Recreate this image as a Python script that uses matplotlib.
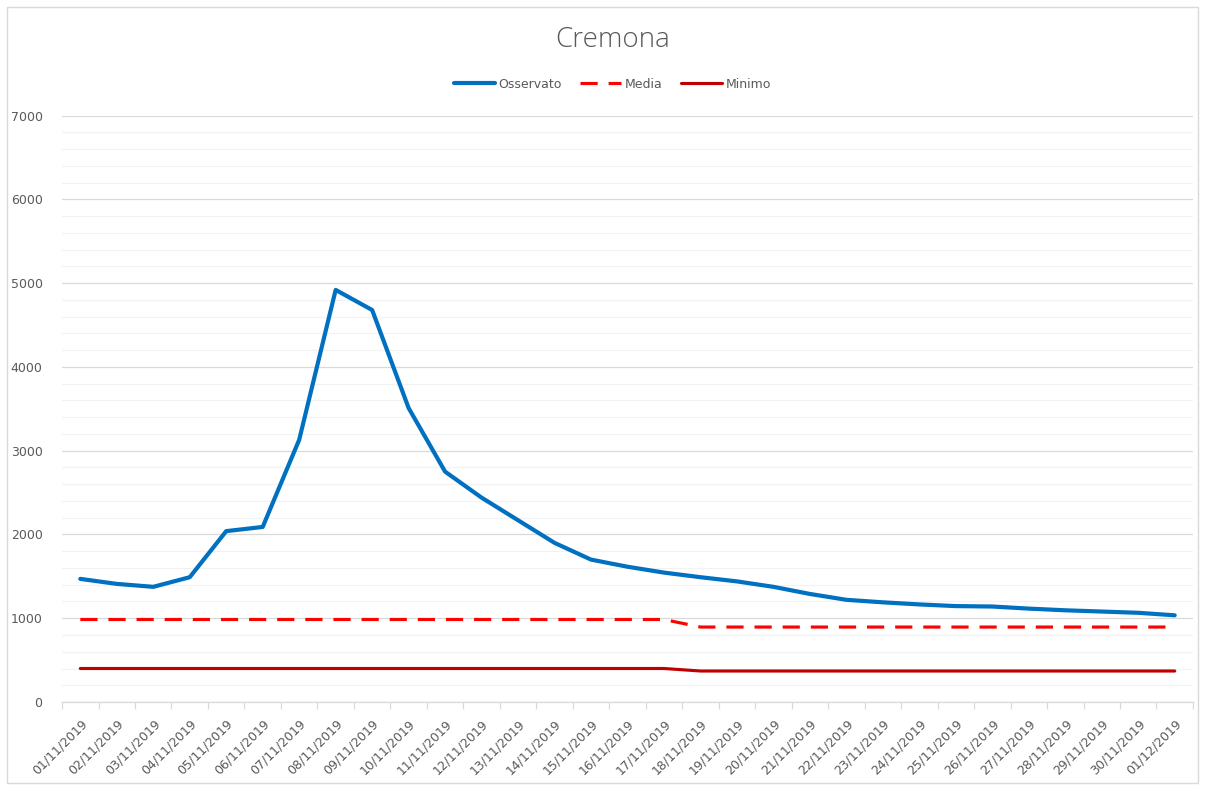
import matplotlib.pyplot as plt
from matplotlib.patches import Rectangle
from matplotlib.ticker import MultipleLocator

dates = ["01/11/2019", "02/11/2019", "03/11/2019", "04/11/2019", "05/11/2019",
         "06/11/2019", "07/11/2019", "08/11/2019", "09/11/2019", "10/11/2019",
         "11/11/2019", "12/11/2019", "13/11/2019", "14/11/2019", "15/11/2019",
         "16/11/2019", "17/11/2019", "18/11/2019", "19/11/2019", "20/11/2019",
         "21/11/2019", "22/11/2019", "23/11/2019", "24/11/2019", "25/11/2019",
         "26/11/2019", "27/11/2019", "28/11/2019", "29/11/2019", "30/11/2019",
         "01/12/2019"]

osservato = [1470, 1410, 1375, 1490, 2040, 2090, 3130, 4920, 4680, 3510,
             2750, 2440, 2170, 1900, 1700, 1615, 1545, 1490, 1440, 1375,
             1290, 1220, 1190, 1165, 1145, 1140, 1115, 1095, 1080, 1065, 1035]
media = [985] * 17 + [895] * 14
minimo = [400] * 17 + [370] * 14

GRAY = "#595959"

fig = plt.figure(figsize=(12.05, 7.87), dpi=100)
ax = fig.add_axes([0.0515, 0.108, 0.9385, 0.745])

x = list(range(len(dates)))
ax.plot(x, osservato, color="#0070C0", lw=3.0, label="Osservato", solid_capstyle="round")
ax.plot(x, media, color="#FF0000", lw=2.25, dashes=(5.5, 3.5), label="Media")
ax.plot(x, minimo, color="#C00000", lw=2.25, label="Minimo", solid_capstyle="round")

ax.set_xlim(-0.5, len(dates) - 0.5)
ax.set_ylim(0, 7000)
ax.yaxis.set_major_locator(MultipleLocator(1000))
ax.yaxis.set_minor_locator(MultipleLocator(200))
ax.grid(which="major", axis="y", color="#D9D9D9", lw=0.9)
ax.grid(which="minor", axis="y", color="#F2F2F2", lw=0.9)
ax.set_axisbelow(True)

ax.set_xticks(x)
ax.set_xticklabels(dates, rotation=45, ha="right", rotation_mode="anchor",
                   fontsize=9, color=GRAY)
ax.set_xticks([i - 0.5 for i in range(len(dates) + 1)], minor=True)
ax.tick_params(axis="x", which="major", length=0, pad=11)
ax.tick_params(axis="x", which="minor", length=5, color="#D9D9D9", width=0.9)
ax.tick_params(axis="y", which="both", length=0, pad=14, labelsize=9, labelcolor=GRAY)

for s in ["left", "right", "top"]:
    ax.spines[s].set_visible(False)
ax.spines["bottom"].set_color("#D9D9D9")
ax.spines["bottom"].set_linewidth(0.9)

fig.text(0.508, 0.949, "Cremona", ha="center", va="center", fontsize=20,
         color=GRAY, family="Open Sans", fontweight="light")
fig.legend(loc="center", bbox_to_anchor=(0.508, 0.893), ncol=3, frameon=False,
           fontsize=9, labelcolor=GRAY, handlelength=3.3, handletextpad=0.25,
           columnspacing=1.5)

fig.patches.append(Rectangle((0.006, 0.005), 0.988, 0.986, transform=fig.transFigure,
                             fill=False, edgecolor="#D9D9D9", lw=1))

fig.savefig("out.png", dpi=100)
